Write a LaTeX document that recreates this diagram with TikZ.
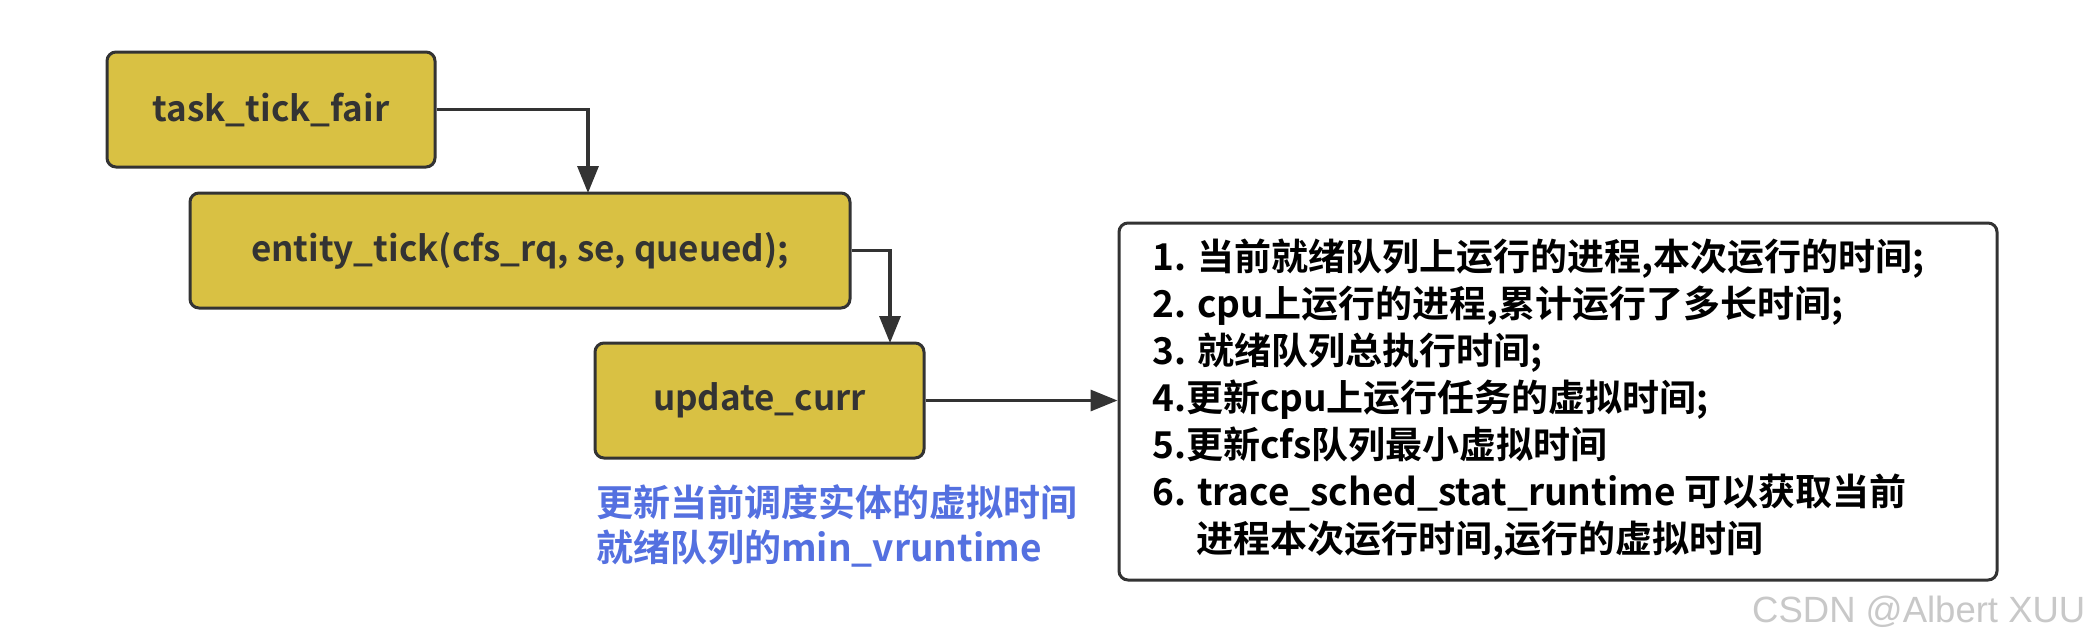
\documentclass[tikz,border=0pt]{standalone}
\usepackage{fontspec}
\setmainfont{Noto Sans CJK SC}[BoldFont={Noto Sans CJK SC Bold}]
\newfontfamily\wmfont{Liberation Sans}
\usetikzlibrary{arrows.meta}
\definecolor{boxfill}{HTML}{D9C143}
\definecolor{boxline}{HTML}{333333}
\definecolor{notetext}{HTML}{5470E0}
\definecolor{wmgray}{HTML}{C8C8C8}
\tikzset{
  fbox/.style={draw=boxline, line width=3pt, fill=boxfill, rounded corners=9pt,
    minimum height=115pt, inner sep=0pt, text=boxline,
    font=\bfseries\fontsize{35}{40}\selectfont},
  conn/.style={draw=boxline, line width=3.3pt, -{Triangle[length=27pt,width=21pt]}},
  infoline/.style={anchor=base west, inner sep=0pt, text=black,
    font=\bfseries\fontsize{37}{47}\selectfont},
  noteline/.style={anchor=base west, inner sep=0pt, text=notetext,
    font=\bfseries\fontsize{37}{45}\selectfont},
}
\begin{document}
\begin{tikzpicture}[x=1pt,y=-1pt]
\useasboundingbox[fill=white] (0,0) rectangle (2092,643);
\node[fbox, minimum width=328pt] (b1) at (271,109.5) {task\_tick\_fair};
\node[fbox, minimum width=660pt] (b2) at (520,250.5) {entity\_tick(cfs\_rq, se, queued);};
\node[fbox, minimum width=329pt] (b3) at (759.5,400.5) {update\_curr};
\node[draw=boxline, line width=3pt, rounded corners=9pt, minimum width=878pt,
  minimum height=357pt, inner sep=0pt] (rb) at (1558,401.5) {};
\coordinate (k1) at (588,193);
\coordinate (k2) at (890,343);
\draw[conn] (b1.east) -| (k1);
\draw[conn] (b2.east) -| (k2);
\draw[conn] (b3.east) -- (b3.east -| rb.west);
\node[infoline] (r1) at (1152,270) {1. 当前就绪队列上运行的进程,本次运行的时间;};
\node[infoline] (r2) at (1152,317) {2. cpu上运行的进程,累计运行了多长时间;};
\node[infoline] (r3) at (1152,364) {3. 就绪队列总执行时间;};
\node[infoline] (r4) at (1152,411) {4.更新cpu上运行任务的虚拟时间;};
\node[infoline] (r5) at (1152,458) {5.更新cfs队列最小虚拟时间};
\node[infoline] (r6) at (1152,505) {6. trace\_sched\_stat\_runtime 可以获取当前};
\node[infoline] (r7) at (1196,552) {进程本次运行时间,运行的虚拟时间};
\node[noteline] (n1) at (596,516) {更新当前调度实体的虚拟时间};
\node[noteline] (n2) at (596,561) {就绪队列的min\_vruntime};
\node[anchor=base west, inner sep=0pt, text=wmgray, font=\wmfont\fontsize{36.5}{40}\selectfont]
  (wm) at (1752,622) {CSDN @Albert XUU};
\end{tikzpicture}
\end{document}
